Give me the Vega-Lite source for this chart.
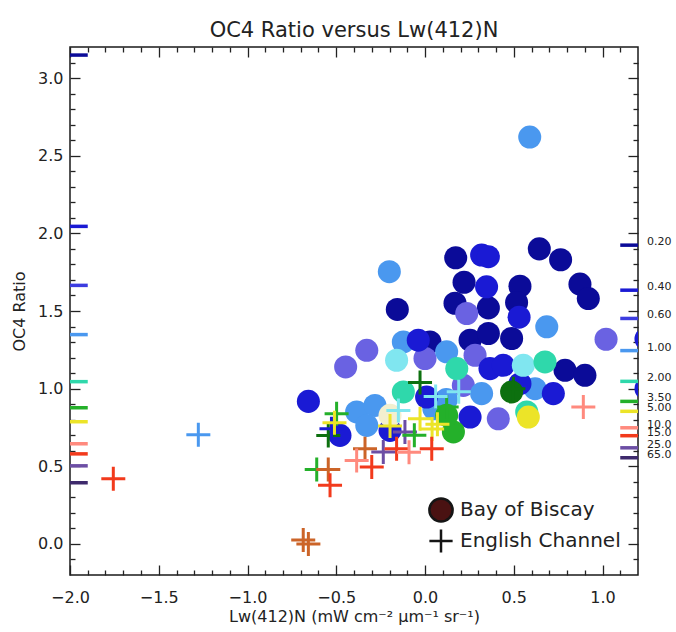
{
  "$schema": "https://vega.github.io/schema/vega-lite/v6.json",
  "width": 568,
  "height": 528,
  "autosize": {"type": "none"},
  "padding": {"left": 70, "top": 47, "right": 38, "bottom": 57},
  "background": "white",
  "config": {
    "font": "DejaVu Sans",
    "view": {"stroke": "#1a1a1a", "strokeWidth": 1.5},
    "axis": {
      "domain": false, "grid": false, "labelFlush": false,
      "labelFont": "DejaVu Sans", "labelFontSize": 16, "labelColor": "#222",
      "tickColor": "#222", "tickWidth": 1.3,
      "titleFont": "DejaVu Sans", "titleFontWeight": "normal", "titleFontSize": 16, "titleColor": "#222"
    }
  },
  "title": {"text": "OC4 Ratio versus Lw(412)N", "fontSize": 21, "fontWeight": "normal", "font": "DejaVu Sans", "anchor": "middle", "offset": 5, "color": "#222"},
  "datasets": {
    "biscay": [
      {"x": 0.173, "y": 1.843, "chl": "0.2", "region": "Bay of Biscay"},
      {"x": 0.644, "y": 1.90, "chl": "0.2", "region": "Bay of Biscay"},
      {"x": 0.764, "y": 1.83, "chl": "0.2", "region": "Bay of Biscay"},
      {"x": 0.873, "y": 1.673, "chl": "0.2", "region": "Bay of Biscay"},
      {"x": 0.920, "y": 1.58, "chl": "0.2", "region": "Bay of Biscay"},
      {"x": -0.156, "y": 1.51, "chl": "0.2", "region": "Bay of Biscay"},
      {"x": 0.22, "y": 1.685, "chl": "0.2", "region": "Bay of Biscay"},
      {"x": 0.535, "y": 1.66, "chl": "0.2", "region": "Bay of Biscay"},
      {"x": 0.169, "y": 1.55, "chl": "0.2", "region": "Bay of Biscay"},
      {"x": 0.357, "y": 1.52, "chl": "0.2", "region": "Bay of Biscay"},
      {"x": 0.516, "y": 1.555, "chl": "0.2", "region": "Bay of Biscay"},
      {"x": 0.254, "y": 1.312, "chl": "0.2", "region": "Bay of Biscay"},
      {"x": 0.357, "y": 1.355, "chl": "0.2", "region": "Bay of Biscay"},
      {"x": 0.488, "y": 1.323, "chl": "0.2", "region": "Bay of Biscay"},
      {"x": 0.028, "y": 1.301, "chl": "0.2", "region": "Bay of Biscay"},
      {"x": 0.789, "y": 1.118, "chl": "0.2", "region": "Bay of Biscay"},
      {"x": 0.901, "y": 1.086, "chl": "0.2", "region": "Bay of Biscay"},
      {"x": 0.235, "y": 1.484, "chl": "0.6", "region": "Bay of Biscay"},
      {"x": 1.020, "y": 1.318, "chl": "0.6", "region": "Bay of Biscay"},
      {"x": -0.328, "y": 1.247, "chl": "0.6", "region": "Bay of Biscay"},
      {"x": -0.447, "y": 1.14, "chl": "0.6", "region": "Bay of Biscay"},
      {"x": 0.0, "y": 1.194, "chl": "0.6", "region": "Bay of Biscay"},
      {"x": 0.282, "y": 1.215, "chl": "0.6", "region": "Bay of Biscay"},
      {"x": 0.216, "y": 1.021, "chl": "0.6", "region": "Bay of Biscay"},
      {"x": 0.413, "y": 0.806, "chl": "0.6", "region": "Bay of Biscay"},
      {"x": 0.590, "y": 2.62, "chl": "1.0", "region": "Bay of Biscay"},
      {"x": -0.201, "y": 1.753, "chl": "1.0", "region": "Bay of Biscay"},
      {"x": 0.686, "y": 1.398, "chl": "1.0", "region": "Bay of Biscay"},
      {"x": -0.122, "y": 1.301, "chl": "1.0", "region": "Bay of Biscay"},
      {"x": 0.122, "y": 1.237, "chl": "1.0", "region": "Bay of Biscay"},
      {"x": 0.319, "y": 0.968, "chl": "1.0", "region": "Bay of Biscay"},
      {"x": -0.385, "y": 0.85, "chl": "1.0", "region": "Bay of Biscay"},
      {"x": -0.282, "y": 0.892, "chl": "1.0", "region": "Bay of Biscay"},
      {"x": -0.328, "y": 0.763, "chl": "1.0", "region": "Bay of Biscay"},
      {"x": 0.12, "y": 0.93, "chl": "1.0", "region": "Bay of Biscay"},
      {"x": 0.62, "y": 1.0, "chl": "1.0", "region": "Bay of Biscay"},
      {"x": 0.05, "y": 0.87, "chl": "1.0", "region": "Bay of Biscay"},
      {"x": 0.319, "y": 1.86, "chl": "0.4", "region": "Bay of Biscay"},
      {"x": 0.357, "y": 1.85, "chl": "0.4", "region": "Bay of Biscay"},
      {"x": 0.347, "y": 1.656, "chl": "0.4", "region": "Bay of Biscay"},
      {"x": 0.53, "y": 1.46, "chl": "0.4", "region": "Bay of Biscay"},
      {"x": -0.038, "y": 1.312, "chl": "0.4", "region": "Bay of Biscay"},
      {"x": 0.366, "y": 1.129, "chl": "0.4", "region": "Bay of Biscay"},
      {"x": 0.441, "y": 1.150, "chl": "0.4", "region": "Bay of Biscay"},
      {"x": 0.723, "y": 0.968, "chl": "0.4", "region": "Bay of Biscay"},
      {"x": 0.535, "y": 1.032, "chl": "0.4", "region": "Bay of Biscay"},
      {"x": 0.254, "y": 0.817, "chl": "0.4", "region": "Bay of Biscay"},
      {"x": 0.009, "y": 0.946, "chl": "0.4", "region": "Bay of Biscay"},
      {"x": -0.657, "y": 0.918, "chl": "0.4", "region": "Bay of Biscay"},
      {"x": -0.479, "y": 0.699, "chl": "0.4", "region": "Bay of Biscay"},
      {"x": -0.197, "y": 0.731, "chl": "0.4", "region": "Bay of Biscay"},
      {"x": 1.245, "y": 1.32, "chl": "0.4", "region": "Bay of Biscay"},
      {"x": 1.245, "y": 1.0, "chl": "0.4", "region": "Bay of Biscay"},
      {"x": -0.160, "y": 1.183, "chl": "1.5", "region": "Bay of Biscay"},
      {"x": 0.554, "y": 1.150, "chl": "1.5", "region": "Bay of Biscay"},
      {"x": 0.179, "y": 1.129, "chl": "2.0", "region": "Bay of Biscay"},
      {"x": 0.676, "y": 1.172, "chl": "2.0", "region": "Bay of Biscay"},
      {"x": 0.573, "y": 0.85, "chl": "2.0", "region": "Bay of Biscay"},
      {"x": -0.122, "y": 0.979, "chl": "2.0", "region": "Bay of Biscay"},
      {"x": 0.160, "y": 0.721, "chl": "3.5", "region": "Bay of Biscay"},
      {"x": 0.122, "y": 0.828, "chl": "3.5", "region": "Bay of Biscay"},
      {"x": 0.488, "y": 0.979, "chl": "4.0", "region": "Bay of Biscay"},
      {"x": 0.582, "y": 0.817, "chl": "5.0", "region": "Bay of Biscay"},
      {"x": -0.197, "y": 0.828, "chl": "7.0", "region": "Bay of Biscay"}
    ],
    "channel": [
      {"x": -1.756, "y": 0.419, "chl": "15", "region": "English Channel"},
      {"x": -1.277, "y": 0.703, "chl": "1.0", "region": "English Channel"},
      {"x": -0.686, "y": 0.025, "chl": "12", "region": "English Channel"},
      {"x": -0.657, "y": 0.0, "chl": "12", "region": "English Channel"},
      {"x": -0.610, "y": 0.480, "chl": "3.5", "region": "English Channel"},
      {"x": -0.545, "y": 0.479, "chl": "12", "region": "English Channel"},
      {"x": -0.535, "y": 0.378, "chl": "15", "region": "English Channel"},
      {"x": -0.498, "y": 0.839, "chl": "3.5", "region": "English Channel"},
      {"x": -0.545, "y": 0.699, "chl": "4.0", "region": "English Channel"},
      {"x": -0.527, "y": 0.742, "chl": "0.4", "region": "English Channel"},
      {"x": -0.51, "y": 0.78, "chl": "5.0", "region": "English Channel"},
      {"x": -0.338, "y": 0.613, "chl": "12", "region": "English Channel"},
      {"x": -0.385, "y": 0.537, "chl": "10", "region": "English Channel"},
      {"x": -0.300, "y": 0.495, "chl": "15", "region": "English Channel"},
      {"x": -0.235, "y": 0.592, "chl": "25", "region": "English Channel"},
      {"x": -0.160, "y": 0.613, "chl": "15", "region": "English Channel"},
      {"x": -0.113, "y": 0.721, "chl": "25", "region": "English Channel"},
      {"x": -0.09, "y": 0.59, "chl": "10", "region": "English Channel"},
      {"x": -0.06, "y": 0.70, "chl": "3.5", "region": "English Channel"},
      {"x": -0.197, "y": 0.76, "chl": "5.0", "region": "English Channel"},
      {"x": -0.028, "y": 0.806, "chl": "5.0", "region": "English Channel"},
      {"x": 0.04, "y": 0.74, "chl": "5.0", "region": "English Channel"},
      {"x": 0.07, "y": 0.77, "chl": "5.0", "region": "English Channel"},
      {"x": 0.038, "y": 0.613, "chl": "15", "region": "English Channel"},
      {"x": 0.122, "y": 0.882, "chl": "3.5", "region": "English Channel"},
      {"x": -0.028, "y": 1.04, "chl": "4.0", "region": "English Channel"},
      {"x": 0.498, "y": 1.0, "chl": "4.0", "region": "English Channel"},
      {"x": 0.892, "y": 0.882, "chl": "10", "region": "English Channel"},
      {"x": 0.06, "y": 0.95, "chl": "1.5", "region": "English Channel"},
      {"x": 0.19, "y": 0.98, "chl": "1.5", "region": "English Channel"},
      {"x": -0.15, "y": 0.86, "chl": "1.5", "region": "English Channel"}
    ],
    "left": [
      {"v": 3.148, "chl": "0.2"}, {"v": 2.045, "chl": "0.4"}, {"v": 1.665, "chl": "0.6"},
      {"v": 1.348, "chl": "1.0"}, {"v": 1.045, "chl": "2.0"}, {"v": 0.877, "chl": "3.5"},
      {"v": 0.787, "chl": "5.0"}, {"v": 0.645, "chl": "10"}, {"v": 0.58, "chl": "15"},
      {"v": 0.503, "chl": "25"}, {"v": 0.394, "chl": "65"}
    ],
    "right": [
      {"v": 1.924, "chl": "0.2", "label": "0.20"}, {"v": 1.634, "chl": "0.4", "label": "0.40"},
      {"v": 1.452, "chl": "0.6", "label": "0.60"}, {"v": 1.245, "chl": "1.0", "label": "1.00"},
      {"v": 1.047, "chl": "2.0", "label": "2.00"}, {"v": 0.918, "chl": "3.5", "label": "3.50"},
      {"v": 0.854, "chl": "5.0", "label": "5.00"}, {"v": 0.748, "chl": "10", "label": "10.0"},
      {"v": 0.697, "chl": "15", "label": "15.0"}, {"v": 0.619, "chl": "25", "label": "25.0"},
      {"v": 0.555, "chl": "65", "label": "65.0"}
    ]
  },
  "layer": [
    {
      "data": {"name": "biscay"},
      "mark": {"type": "point", "filled": true, "clip": true, "opacity": 1, "size": 531},
      "encoding": {
        "x": {"field": "x", "type": "quantitative", "scale": {"domain": [-2, 1.2], "nice": false, "zero": false},
              "axis": {"orient": "bottom", "values": [-2, -1.5, -1, -0.5, 0, 0.5, 1], "format": ".1f", "tickSize": -10, "labelPadding": 24, "title": "Lw(412)N (mW cm⁻² µm⁻¹ sr⁻¹)", "titlePadding": 3}},
        "y": {"field": "y", "type": "quantitative", "scale": {"domain": [-0.2, 3.2], "nice": false, "zero": false},
              "axis": {"orient": "left", "values": [0, 0.5, 1, 1.5, 2, 2.5, 3], "format": ".1f", "tickSize": -10, "labelPadding": 17, "title": "OC4 Ratio", "titlePadding": 10}},
        "shape": {"field": "region", "type": "nominal", "scale": {"domain": ["Bay of Biscay", "English Channel"], "range": ["circle", "M-1,0H1M0,-1V1"]},
                  "legend": {"orient": "bottom-right", "offset": 17, "title": null, "padding": 0, "labelFontSize": 20, "labelFont": "DejaVu Sans", "labelColor": "#222", "labelLimit": 400, "symbolSize": 540, "rowPadding": -3, "labelOffset": 6,
                             "symbolFillColor": "#4a1212", "symbolStrokeColor": "#151515", "symbolStrokeWidth": 2.5, "symbolOpacity": 1}},
        "fill": {"field": "chl", "type": "nominal", "legend": null,
                 "scale": {"domain": ["0.2","0.4","0.6","1.0","1.5","2.0","3.5","4.0","5.0","7.0","10","12","15","25","65"],
                           "range": ["#0b0b98","#1a1ad4","#6a62e2","#4a98ef","#80e6f0","#2fd8ab","#24b02a","#0d700f","#ece428","#f3efcf","#ff8a7e","#cc6428","#f23a1c","#6c4ea4","#3e2a6c"]}}
      }
    },
    {
      "data": {"name": "channel"},
      "mark": {"type": "point", "filled": true, "clip": true, "opacity": 1, "size": 576, "strokeWidth": 3},
      "encoding": {
        "x": {"field": "x", "type": "quantitative", "scale": {"domain": [-2, 1.2], "nice": false, "zero": false}, "axis": null},
        "y": {"field": "y", "type": "quantitative", "scale": {"domain": [-0.2, 3.2], "nice": false, "zero": false}, "axis": null},
        "shape": {"field": "region", "type": "nominal", "scale": {"domain": ["Bay of Biscay", "English Channel"], "range": ["circle", "M-1,0H1M0,-1V1"]},
                  "legend": {"orient": "bottom-right", "offset": 17, "title": null, "padding": 0, "labelFontSize": 20, "labelFont": "DejaVu Sans", "labelColor": "#222", "labelLimit": 400, "symbolSize": 540, "rowPadding": -3, "labelOffset": 6,
                             "symbolFillColor": "#4a1212", "symbolStrokeColor": "#151515", "symbolStrokeWidth": 2.5, "symbolOpacity": 1}},
        "fill": {"field": "chl", "type": "nominal", "legend": null,
                 "scale": {"domain": ["0.2","0.4","0.6","1.0","1.5","2.0","3.5","4.0","5.0","7.0","10","12","15","25","65"],
                           "range": ["#0b0b98","#1a1ad4","#6a62e2","#4a98ef","#80e6f0","#2fd8ab","#24b02a","#0d700f","#ece428","#f3efcf","#ff8a7e","#cc6428","#f23a1c","#6c4ea4","#3e2a6c"]}},
        "stroke": {"field": "chl", "type": "nominal", "legend": null,
                 "scale": {"domain": ["0.2","0.4","0.6","1.0","1.5","2.0","3.5","4.0","5.0","7.0","10","12","15","25","65"],
                           "range": ["#0b0b98","#1a1ad4","#3c3ce0","#4a98ef","#80e6f0","#2fd8ab","#24b02a","#0d700f","#ece428","#f3efcf","#ff8a7e","#cc6428","#f23a1c","#6c4ea4","#3e2a6c"]}}
      }
    },
    {
      "data": {"name": "left"},
      "mark": {"type": "rule", "strokeWidth": 3.5},
      "encoding": {
        "x": {"datum": -2.0, "type": "quantitative", "scale": {"domain": [-2, 1.2], "nice": false, "zero": false},
              "axis": {"orient": "bottom", "values": [-1.9,-1.8,-1.7,-1.6,-1.4,-1.3,-1.2,-1.1,-0.9,-0.8,-0.7,-0.6,-0.4,-0.3,-0.2,-0.1,0.1,0.2,0.3,0.4,0.6,0.7,0.8,0.9,1.1], "labels": false, "tickSize": -5, "title": null}},
        "x2": {"datum": -1.9},
        "y": {"field": "v", "type": "quantitative", "scale": {"domain": [-0.2, 3.2], "nice": false, "zero": false},
              "axis": {"orient": "left", "values": [-0.1,0.1,0.2,0.3,0.4,0.6,0.7,0.8,0.9,1.1,1.2,1.3,1.4,1.6,1.7,1.8,1.9,2.1,2.2,2.3,2.4,2.6,2.7,2.8,2.9,3.1], "labels": false, "tickSize": -5, "title": null}},
        "color": {"field": "chl", "type": "nominal", "legend": null,
                  "scale": {"domain": ["0.2","0.4","0.6","1.0","1.5","2.0","3.5","4.0","5.0","7.0","10","12","15","25","65"],
                            "range": ["#0b0b98","#1a1ad4","#3c3ce0","#4a98ef","#80e6f0","#2fd8ab","#24b02a","#0d700f","#ece428","#f3efcf","#ff8a7e","#cc6428","#f23a1c","#6c4ea4","#3e2a6c"]}}
      }
    },
    {
      "data": {"name": "right"},
      "mark": {"type": "rule", "strokeWidth": 3.5},
      "encoding": {
        "x": {"datum": 1.1, "type": "quantitative", "scale": {"domain": [-2, 1.2], "nice": false, "zero": false},
              "axis": {"orient": "top", "values": [-2, -1.5, -1, -0.5, 0, 0.5, 1], "labels": false, "tickSize": -10, "title": null}},
        "x2": {"datum": 1.2},
        "y": {"field": "v", "type": "quantitative", "scale": {"domain": [-0.2, 3.2], "nice": false, "zero": false},
              "axis": {"orient": "right", "values": [0, 0.5, 1, 1.5, 2, 2.5, 3], "labels": false, "tickSize": -10, "title": null}},
        "color": {"field": "chl", "type": "nominal", "legend": null,
                  "scale": {"domain": ["0.2","0.4","0.6","1.0","1.5","2.0","3.5","4.0","5.0","7.0","10","12","15","25","65"],
                            "range": ["#0b0b98","#1a1ad4","#3c3ce0","#4a98ef","#80e6f0","#2fd8ab","#24b02a","#0d700f","#ece428","#f3efcf","#ff8a7e","#cc6428","#f23a1c","#6c4ea4","#3e2a6c"]}}
      }
    },
    {
      "data": {"name": "right"},
      "mark": {"type": "text", "align": "left", "baseline": "middle", "dx": 9, "dy": -3, "fontSize": 11, "font": "DejaVu Sans", "color": "#222"},
      "encoding": {
        "x": {"datum": 1.2, "type": "quantitative", "scale": {"domain": [-2, 1.2], "nice": false, "zero": false},
              "axis": {"orient": "top", "values": [-1.9,-1.8,-1.7,-1.6,-1.4,-1.3,-1.2,-1.1,-0.9,-0.8,-0.7,-0.6,-0.4,-0.3,-0.2,-0.1,0.1,0.2,0.3,0.4,0.6,0.7,0.8,0.9,1.1], "labels": false, "tickSize": -5, "title": null}},
        "y": {"field": "v", "type": "quantitative", "scale": {"domain": [-0.2, 3.2], "nice": false, "zero": false},
              "axis": {"orient": "right", "values": [-0.1,0.1,0.2,0.3,0.4,0.6,0.7,0.8,0.9,1.1,1.2,1.3,1.4,1.6,1.7,1.8,1.9,2.1,2.2,2.3,2.4,2.6,2.7,2.8,2.9,3.1], "labels": false, "tickSize": -5, "title": null}},
        "text": {"field": "label", "type": "nominal"}
      }
    }
  ],
  "resolve": {"axis": {"x": "independent", "y": "independent"}}
}
